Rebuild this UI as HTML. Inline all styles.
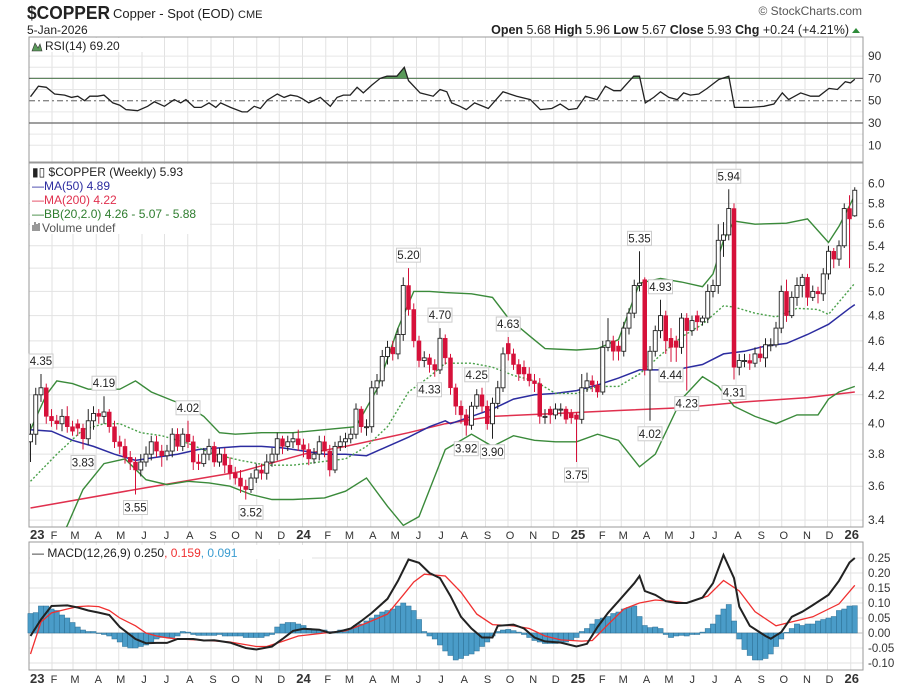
<!DOCTYPE html>
<html><head><meta charset="utf-8"><style>
body{margin:0;background:#fff;font-family:"Liberation Sans",Arial,sans-serif}
svg{display:block}
text{font-family:"Liberation Sans",Arial,sans-serif}
</style></head><body>
<svg id="chart" width="903" height="687" viewBox="0 0 903 687" xmlns="http://www.w3.org/2000/svg">
<rect width="903" height="687" fill="#fff"/>
<g id="header">
<text x="27" y="19" font-size="18" font-weight="bold" fill="#222" textLength="83" lengthAdjust="spacingAndGlyphs">$COPPER</text>
<text x="113" y="18" font-size="13" fill="#222">Copper - Spot (EOD) <tspan font-size="11">CME</tspan></text>
<text x="27" y="34" font-size="12" fill="#222">5-Jan-2026</text>
<text x="862" y="15" font-size="12" fill="#555" text-anchor="end">© StockCharts.com</text>
<text x="849" y="34" font-size="12.5" fill="#222" text-anchor="end"><tspan font-weight="bold">Open</tspan> 5.68  <tspan font-weight="bold">High</tspan> 5.96  <tspan font-weight="bold">Low</tspan> 5.67  <tspan font-weight="bold">Close</tspan> 5.93  <tspan font-weight="bold">Chg</tspan> +0.24 (+4.21%)</text>
<path d="M852 33 L856 28 L860 33 Z" fill="#2e8b3a"/>
</g>
<defs>
<clipPath id="clipMain"><rect x="29" y="163" width="834" height="364"/></clipPath>
<clipPath id="clipRsiTop"><rect x="29" y="37" width="834" height="42"/></clipPath>
</defs>
<g id="grid"></g>
<g id="rsi"></g>
<g id="main"></g>
<g id="macd"></g>
<g id="legends"></g>
</svg>
<script>
// ---------- DATA ----------
const opens=[3.88,3.93,4.20,4.25,4.05,4.02,4.00,4.05,3.98,4.00,3.97,3.90,4.02,4.07,4.05,4.08,3.98,3.88,3.85,3.78,3.75,3.70,3.75,3.80,3.88,3.82,3.79,3.82,3.93,3.85,3.93,3.88,3.75,3.74,3.80,3.85,3.75,3.80,3.73,3.68,3.65,3.60,3.58,3.65,3.70,3.68,3.75,3.80,3.90,3.85,3.88,3.90,3.86,3.83,3.77,3.80,3.88,3.82,3.70,3.85,3.88,3.90,3.93,4.10,3.98,3.98,4.25,4.30,4.48,4.55,4.50,4.65,5.05,4.85,4.60,4.45,4.47,4.42,4.38,4.62,
4.47,4.25,4.12,4.06,3.99,4.12,4.20,4.12,4.00,4.14,4.25,4.58,4.50,4.42,4.40,4.35,4.30,4.28,4.05,4.10,4.06,4.10,4.10,4.07,4.06,4.03,4.25,4.30,4.27,4.22,4.55,4.60,4.56,4.52,4.70,4.82,5.05,5.10,4.38,4.52,4.68,4.80,4.62,4.60,4.55,4.78,4.68,4.80,4.75,4.78,5.00,5.05,5.45,5.50,5.75,4.40,4.45,4.45,4.43,4.50,4.47,4.57,4.57,4.70,5.00,4.80,4.95,5.05,5.12,4.95,5.00,4.98,5.15,5.35,5.28,5.40,5.75,5.68];
const highs=[4.00,4.25,4.35,4.28,4.10,4.06,4.10,4.12,4.02,4.03,4.00,4.10,4.12,4.10,4.19,4.10,4.02,3.92,3.90,3.82,3.78,3.80,3.85,3.92,3.92,3.86,3.86,3.97,3.97,3.97,4.02,3.92,3.80,3.84,3.90,3.88,3.84,3.84,3.78,3.72,3.70,3.64,3.68,3.74,3.74,3.80,3.84,3.94,3.92,3.92,3.94,3.96,3.90,3.87,3.84,3.92,3.92,3.86,3.88,3.92,3.94,3.97,4.14,4.12,4.03,4.30,4.35,4.53,4.60,4.60,4.70,5.12,5.20,4.90,4.64,4.52,4.50,4.46,4.70,4.65,
4.50,4.28,4.16,4.10,4.15,4.24,4.25,4.16,4.18,4.30,4.55,4.63,4.54,4.46,4.45,4.40,4.35,4.32,4.10,4.12,4.14,4.14,4.12,4.10,4.08,4.35,4.36,4.34,4.30,4.60,4.78,4.64,4.60,4.75,4.86,5.10,5.35,5.12,4.56,4.72,4.93,4.84,4.70,4.64,4.82,4.82,4.80,4.84,4.80,5.06,5.10,5.60,5.62,5.94,5.80,4.50,4.50,4.50,4.55,4.56,4.62,4.62,4.75,5.05,5.10,5.00,5.12,5.15,5.15,5.05,5.04,5.20,5.40,5.38,5.45,5.80,5.88,5.96];
const lows=[3.75,3.86,4.15,4.00,3.98,3.96,3.95,3.94,3.92,3.92,3.83,3.86,3.96,4.00,4.00,3.94,3.84,3.80,3.74,3.70,3.55,3.66,3.72,3.76,3.78,3.72,3.76,3.78,3.82,3.82,3.84,3.70,3.70,3.72,3.76,3.72,3.72,3.68,3.64,3.61,3.56,3.52,3.56,3.62,3.64,3.64,3.72,3.76,3.80,3.82,3.84,3.82,3.78,3.73,3.74,3.76,3.78,3.66,3.68,3.82,3.84,3.87,3.90,3.94,3.92,3.94,4.20,4.26,4.42,4.45,4.46,4.60,4.80,4.55,4.40,4.40,4.36,4.33,4.35,4.42,
4.20,4.06,4.00,3.92,3.96,4.10,4.08,3.96,3.90,4.10,4.22,4.45,4.38,4.30,4.30,4.26,4.22,4.00,4.00,4.00,4.03,4.05,4.00,4.00,3.75,4.00,4.22,4.22,4.18,4.20,4.52,4.45,4.45,4.48,4.65,4.78,5.00,4.34,4.02,4.48,4.62,4.50,4.44,4.44,4.50,4.23,4.64,4.68,4.72,4.74,4.95,4.98,5.30,5.45,4.31,4.34,4.40,4.38,4.40,4.44,4.40,4.52,4.55,4.66,4.75,4.78,4.88,4.95,4.88,4.92,4.90,4.92,5.10,5.20,5.22,5.38,5.20,5.67];
const closes=[3.93,4.20,4.25,4.05,4.02,4.00,4.05,3.98,3.95,3.97,3.90,4.02,4.07,4.05,4.08,3.98,3.88,3.85,3.78,3.75,3.70,3.75,3.80,3.88,3.82,3.79,3.82,3.93,3.85,3.93,3.88,3.75,3.74,3.80,3.85,3.75,3.80,3.73,3.68,3.65,3.60,3.58,3.65,3.70,3.68,3.75,3.80,3.90,3.85,3.88,3.90,3.86,3.83,3.77,3.80,3.88,3.82,3.70,3.85,3.88,3.90,3.93,4.10,3.98,3.98,4.25,4.30,4.48,4.55,4.50,4.65,5.05,4.85,4.60,4.45,4.47,4.42,4.38,4.62,4.47,
4.25,4.12,4.06,3.99,4.12,4.20,4.12,4.00,4.14,4.25,4.50,4.50,4.42,4.35,4.35,4.30,4.28,4.05,4.05,4.06,4.10,4.10,4.03,4.04,4.03,4.25,4.30,4.27,4.22,4.55,4.60,4.52,4.52,4.70,4.82,5.05,5.07,4.38,4.52,4.68,4.80,4.60,4.55,4.55,4.78,4.68,4.76,4.75,4.78,5.00,5.05,5.45,5.50,5.75,4.40,4.45,4.45,4.43,4.50,4.47,4.57,4.57,4.70,5.00,4.80,4.95,5.05,5.12,4.95,5.00,4.98,5.15,5.35,5.28,5.40,5.75,5.65,5.93];

const ma50Weeks=[0,4,8,12,16,20,24,28,32,36,40,44,48,52,56,60,64,68,72,76,79,80,84,88,92,96,100,104,108,112,116,120,124,128,132,136,140,144,148,152,156,157];
const ma50Values=[3.96,3.95,3.89,3.85,3.80,3.76,3.78,3.80,3.83,3.84,3.85,3.85,3.84,3.82,3.80,3.80,3.79,3.85,3.91,3.98,4.02,4.00,4.05,4.10,4.17,4.20,4.21,4.23,4.27,4.32,4.38,4.38,4.39,4.42,4.50,4.52,4.56,4.58,4.65,4.73,4.86,4.89];
const ma200Weeks=[0,20,40,52,60,72,79,88,100,112,124,136,148,157];
const ma200Values=[3.47,3.58,3.69,3.80,3.85,3.94,4.00,4.05,4.07,4.09,4.11,4.15,4.18,4.22];
const bbUpWeeks=[0,3,5,8,11,14,17,20,23,27,30,33,36,39,44,50,56,62,66,70,73,76,79,84,88,91,95,98,104,108,112,116,120,124,128,130,132,134,138,144,148,152,154,157];
const bbUpValues=[3.96,4.20,4.30,4.28,4.24,4.24,4.24,4.30,4.22,4.16,4.12,4.05,3.94,3.93,3.94,3.94,3.96,3.98,4.24,4.70,5.00,5.00,4.99,4.98,4.95,4.78,4.64,4.54,4.53,4.54,4.61,5.07,5.11,5.08,5.04,5.15,5.45,5.63,5.60,5.61,5.65,5.43,5.58,5.88];
const bbMidWeeks=[0,5,10,14,17,21,25,30,35,40,45,50,55,60,64,68,72,76,79,84,88,92,96,100,104,108,112,116,120,124,128,132,134,138,142,146,150,152,157];
const bbMidValues=[3.63,3.80,3.96,4.00,4.00,3.94,3.92,3.87,3.80,3.76,3.73,3.73,3.75,3.77,3.85,3.98,4.22,4.33,4.43,4.43,4.40,4.34,4.30,4.21,4.21,4.26,4.26,4.35,4.49,4.63,4.73,4.88,4.87,4.82,4.79,4.86,4.85,4.81,5.07];
const bbLowWeeks=[4,7,10,14,18,22,26,30,34,38,42,46,50,56,60,64,68,71,74,79,84,88,92,96,100,104,108,112,116,119,124,128,131,134,138,142,146,150,152,154,157];
const bbLowValues=[3.20,3.37,3.58,3.74,3.77,3.64,3.61,3.63,3.62,3.60,3.55,3.52,3.52,3.53,3.57,3.65,3.48,3.37,3.42,3.83,3.93,3.85,3.92,3.89,3.88,3.88,3.93,3.89,3.72,3.80,4.17,4.33,4.26,4.12,4.05,4.00,4.06,4.06,4.17,4.22,4.26];

const rsiWeeks=[0,1.5,3,4.6,6.5,7.8,9,10.3,11.3,12.8,14,15.7,17,18.2,20.4,22.3,23.6,25.5,27.4,28.6,29.6,31.2,32.5,34,35.3,36.2,38.1,40.3,41.3,42.6,43.8,45.1,47,48.3,49.5,50.8,51.7,53,55.2,57.1,58.4,59.6,60.9,62.2,63.4,65,66.6,67.9,69.8,71.2,72,74.2,76.7,78,79.3,80.2,81.8,83,84.6,87.2,90,92.6,95.2,97.1,99.3,100.9,102.5,104.1,105.7,107.9,109.5,111.1,112.4,114.9,116,117.1,118.7,120,121.6,123.2,124.4,125.7,127.3,128.9,131.1,133,134.1,137.2,139.7,141.6,143.2,144.4,146.7,148.6,150.2,152.1,153.7,155.2,156.2,157];
const rsiValues=[53.6,63,62,56,55,53,54,50,54,54,55,48,46,42,41,45,49,45,51,48,51,44,44,48,44,48,44,40,40,45,43,50.5,56,53,55,54,52,48,53,45,53,55,55,62,57,64,70,72,72,80,68,57,54,60,58,48,45,42,48,43,58,54,51,42,43,47,42,43,54,51,63,59,59,72,72,48,53,58,53,51,57,55,56,61,69,72,44,44,45,47,57,51,57,54,54,61,60,67,66,69.2];

const macdWeeks=[0,2,4,7,9,11,13,15,17,20,22,24,26,28,31,33,35,38,41,43,46,48,50,52,55,57,59,61,63,65,68,70,72,74,76,78,80,82,84,86,88,89,92,94,96,98,101,104,106,108,110,112,115,116,117,119,121,123,125,128,130,132,134,135,137,140,141,143,145,147,149,152,154,156,157];
const macdValues=[-0.01,0.045,0.09,0.092,0.085,0.075,0.068,0.06,0.02,-0.02,-0.034,-0.033,-0.033,-0.02,-0.02,-0.025,-0.024,-0.032,-0.05,-0.055,-0.045,-0.02,0.007,0.014,0.011,0.0,0.006,0.015,0.04,0.067,0.114,0.174,0.245,0.234,0.2,0.183,0.123,0.054,0.015,-0.015,-0.015,0.024,0.028,0.015,-0.015,-0.028,-0.032,-0.045,-0.036,0.02,0.067,0.106,0.166,0.19,0.14,0.127,0.106,0.1,0.1,0.118,0.166,0.26,0.183,0.088,0.024,-0.01,-0.019,0.003,0.054,0.071,0.093,0.127,0.174,0.235,0.250];
const signalWeeks=[0,2,4,7,9,11,13,15,17,20,22,24,26,28,33,38,43,45,48,51,56,60,64,68,71,73,75,79,82,85,88,92,95,98,101,105,107,110,113,116,119,122,125,129,132,135,138,142,145,149,154,157];
const signalValues=[-0.07,0.037,0.067,0.08,0.088,0.09,0.088,0.075,0.05,0.024,0.0,-0.01,-0.016,-0.02,-0.024,-0.03,-0.045,-0.045,-0.028,-0.01,0.0,0.007,0.033,0.063,0.127,0.17,0.196,0.19,0.136,0.063,0.028,0.024,0.015,-0.01,-0.023,-0.027,-0.025,0.028,0.08,0.1,0.11,0.106,0.1,0.123,0.175,0.14,0.071,0.024,0.037,0.054,0.097,0.159];
const histValues=[0.065,0.068,0.09,0.09,0.08,0.075,0.06,0.05,0.035,0.02,0.01,0.005,0.005,0,-0.005,-0.01,-0.02,-0.03,-0.045,-0.05,-0.05,-0.045,-0.04,-0.03,-0.02,-0.015,-0.015,-0.015,-0.01,0.005,0.003,-0.005,-0.008,-0.008,-0.008,-0.008,-0.005,-0.01,-0.01,-0.01,-0.01,-0.015,-0.015,-0.015,-0.015,-0.01,-0.005,0.02,0.03,0.035,0.035,0.03,0.025,0.015,0.01,0.01,0.01,0.005,0.005,0.01,0.01,0.015,0.025,0.03,0.04,0.05,0.06,0.07,0.075,0.08,0.09,0.1,0.09,0.075,0.045,0.005,-0.01,-0.02,-0.04,-0.06,
-0.075,-0.09,-0.085,-0.075,-0.07,-0.06,-0.045,-0.03,-0.01,0.005,0.01,0.012,0.008,0.003,-0.005,-0.015,-0.025,-0.03,-0.035,-0.035,-0.035,-0.03,-0.03,-0.025,-0.015,0.005,0.015,0.03,0.045,0.05,0.055,0.065,0.07,0.08,0.085,0.09,0.055,0.025,0.018,0.02,0.015,-0.005,-0.015,-0.01,-0.008,-0.01,-0.005,-0.005,0.003,0.015,0.03,0.06,0.08,0.095,0.04,-0.02,-0.055,-0.075,-0.09,-0.09,-0.085,-0.07,-0.045,-0.02,0.002,0.015,0.03,0.025,0.03,0.03,0.04,0.045,0.05,0.055,0.075,0.08,0.09,0.091];

const annoWeeks=[2,14,10,20,30,42,72,78,76,83,85,88,91,104,116,118,120,122,125,133,134];
const annoValues=[4.35,4.19,3.83,3.55,4.02,3.52,5.20,4.70,4.33,3.92,4.25,3.90,4.63,3.75,5.35,4.02,4.93,4.44,4.23,5.94,4.31];
const annoKinds=["H","H","L","L","H","L","H","H","L","L","H","L","H","L","H","L","H","L","L","H","L"];

const priceTicks=[6.0,5.8,5.6,5.4,5.2,5.0,4.8,4.6,4.4,4.2,4.0,3.8,3.6,3.4];
const rsiTicks=[90,70,50,30,10];
const macdTicks=[0.25,0.20,0.15,0.10,0.05,0.00,-0.05,-0.10];
const monthLetters=["J","F","M","A","M","J","J","A","S","O","N","D"];

// ---------- AXES ----------
const L=29,R=863;
const xOf=i=>30.5+5.25*i;
const yP=p=>183.3+593*Math.log(6/p);
const yR=r=>100.7-(r-50)*1.115;
const yM=v=>633-v*300;
const NS="http://www.w3.org/2000/svg";
function mk(parent,tag,attrs,txt){const e=document.createElementNS(NS,tag);for(const k in attrs)e.setAttribute(k,attrs[k]);if(txt!==undefined)e.textContent=txt;parent.appendChild(e);return e;}
function linePath(ws,vs,yf){return ws.map((w,k)=>(k?'L':'M')+xOf(w).toFixed(1)+' '+yf(vs[k]).toFixed(1)).join(' ');}

const grid=document.getElementById('grid');
const rsiG=document.getElementById('rsi'),mainG=document.getElementById('main'),macdG=document.getElementById('macd'),legG=document.getElementById('legends');

const t0=Date.UTC(2023,0,2);
for(let y=2023;y<=2026;y++){for(let m=0;m<12;m++){
  if(y===2026&&m>0)break;
  const wk=(Date.UTC(y,m,1)-t0)/(7*86400000);
  const x=Math.max(L,xOf(wk)-1);
  const gl=mk(grid,'line',{x1:x,x2:x,y1:37,y2:162,stroke:'#e2e2e2','stroke-width':1});
  
  const g2=mk(grid,'line',{x1:x,x2:x,y1:163,y2:527,stroke:'#e2e2e2','stroke-width':1});
  
  const g3=mk(grid,'line',{x1:x,x2:x,y1:542,y2:670,stroke:'#e2e2e2','stroke-width':1});
  
  const lab=m===0?String(y).slice(2):monthLetters[m];
  const bold=m===0;
  [535,679].forEach(ty=>{
    const t=mk(grid,'text',{x:m===0?x+1:x+2,y:ty+4,'font-size':bold?13:11,'font-weight':bold?'bold':'normal',fill:'#333','text-anchor':m===0&&y===2023?'start':'middle'},lab);
    
  });
}}
priceTicks.forEach(p=>{
  const y=yP(p);
  const l=mk(grid,'line',{x1:L,x2:R,y1:y,y2:y,stroke:'#e2e2e2'});
  
  const t=mk(grid,'text',{x:868,y:y+4,'font-size':12,fill:'#333'},p.toFixed(1));
  
});
[90,80,60,40,20,10].forEach(r=>{const l=mk(grid,'line',{x1:L,x2:R,y1:yR(r),y2:yR(r),stroke:'#e6e6e6'});
  });
rsiTicks.forEach(r=>{const t=mk(grid,'text',{x:868,y:yR(r)+4,'font-size':12,fill:'#333'},String(r));
  });
macdTicks.forEach(v=>{const y=yM(v);
  const l=mk(grid,'line',{x1:L,x2:R,y1:y,y2:y,stroke:'#e2e2e2'});
  
  const t=mk(grid,'text',{x:868,y:y+4,'font-size':11.5,fill:'#333'},v.toFixed(2));
  });
[[37,162],[163,527],[542,670]].forEach(([a,b])=>{const r=mk(grid,'rect',{x:L,y:a,width:R-L,height:b-a,fill:'none',stroke:'#999'});
  });

// ---------- RSI ----------
[[70,'#666','none'],[30,'#666','none'],[50,'#888','6,3,2,3']].forEach(([r,c,d])=>{
  const l=mk(rsiG,'line',{x1:L,x2:R,y1:yR(r),y2:yR(r),stroke:c,'stroke-width':1.3,'stroke-dasharray':d});
  });
const rp=linePath(rsiWeeks,rsiValues,yR);
const rf=mk(rsiG,'path',{d:rp+' L'+xOf(rsiWeeks[rsiWeeks.length-1])+' '+yR(70)+' L'+xOf(0)+' '+yR(70)+' Z',fill:'#5a9a5a','clip-path':'url(#clipRsiTop)'});

const rl=mk(rsiG,'path',{d:rp,fill:'none',stroke:'#222','stroke-width':1.3});


// ---------- PRICE ----------
const clipG=mk(mainG,'g',{'clip-path':'url(#clipMain)'});

const lines=[[ma200Weeks,ma200Values,'#e0304e','none',1.5,'ma200-line'],[ma50Weeks,ma50Values,'#2c2ca0','none',1.5,'ma50-line'],
 [bbUpWeeks,bbUpValues,'#3a8a3a','none',1.4,'bb-upper-line'],[bbLowWeeks,bbLowValues,'#3a8a3a','none',1.4,'bb-lower-line'],[bbMidWeeks,bbMidValues,'#4aa04a','2,2',1.4,'bb-middle-line']];
lines.forEach(([w,v,c,d,sw,n])=>{const p=mk(clipG,'path',{d:linePath(w,v,yP),fill:'none',stroke:c,'stroke-dasharray':d,'stroke-width':sw});
  });
closes.forEach((c,i)=>{
  const o=opens[i],x=xOf(i),up=c>=o;
  const w=mk(clipG,'line',{x1:x,x2:x,y1:yP(highs[i]),y2:yP(lows[i]),stroke:up?'#222':'#d6113a','stroke-width':1});
  
  const top=yP(Math.max(o,c)),bot=yP(Math.min(o,c));
  const b=mk(clipG,'rect',{x:x-2,y:top,width:4,height:Math.max(1,bot-top),fill:up?'#fff':'#d6113a',stroke:up?'#222':'#d6113a','stroke-width':up?0.9:0.5});
  
});
annoWeeks.forEach((w,k)=>{
  const v=annoValues[k],x=xOf(w),hi=annoKinds[k]==='H';
  const yAnchor=yP(v);
  const by=hi?yAnchor-20:yAnchor+6;
  const g=mk(mainG,'g',{});
  
  mk(g,'rect',{x:x-12,y:by,width:24,height:14,fill:'#fff',stroke:'#ccc'});
  mk(g,'text',{x:x,y:by+11,'font-size':11.5,fill:'#222','text-anchor':'middle'},v.toFixed(2));
});

// ---------- MACD ----------
const zl=mk(macdG,'line',{x1:L,x2:R,y1:yM(0),y2:yM(0),stroke:'#bbb'});

histValues.forEach((v,i)=>{
  const y0=yM(0),y1=yM(v);
  const b=mk(macdG,'rect',{x:xOf(i)-2.6,y:Math.min(y0,y1),width:5.2,height:Math.max(0.5,Math.abs(y1-y0)),fill:'#4a9cc8',stroke:'#2a6e94','stroke-width':0.5});
  
});
const sg=mk(macdG,'path',{d:linePath(signalWeeks,signalValues,yM),fill:'none',stroke:'#f03030','stroke-width':1.3});

const ml=mk(macdG,'path',{d:linePath(macdWeeks,macdValues,yM),fill:'none',stroke:'#222','stroke-width':2});


// ---------- LEGENDS ----------
function leg(x,y,parts,name){const t=mk(legG,'text',{x:x,y:y,'font-size':12});
  
  parts.forEach(([s,c])=>{mk(t,'tspan',{fill:c},s);});}
const bg1=mk(legG,'rect',{x:30,y:38,width:115,height:14,fill:'#fff'});

const ri=mk(legG,'path',{d:'M32 51 L35 43 L38 48 L40 44 L42 51 Z',fill:'#5a9a5a',stroke:'#333','stroke-width':0.6});

leg(45,50,[['RSI(14) 69.20','#222']],'rsi-legend');
const bg2=mk(legG,'rect',{x:30,y:164,width:180,height:70,fill:'#fff'});

leg(32,176,[['\u25AE\u25AF $COPPER (Weekly) 5.93','#222']],'price-legend');
leg(32,190,[['\u2014','#2c2ca0'],['MA(50) 4.89','#2c2ca0']],'ma50-legend');
leg(32,204,[['\u2014','#e0304e'],['MA(200) 4.22','#e0304e']],'ma200-legend');
leg(32,218,[['\u2014','#2e7d2e'],['BB(20,2.0) 4.26 - 5.07 - 5.88','#2e7d2e']],'bb-legend');
const vi=mk(legG,'path',{d:'M33 231 V225 M35 231 V222 M37 231 V224 M39 231 V223',stroke:'#777','stroke-width':1.5});

leg(42,232,[['Volume undef','#555']],'volume-legend');
const bg3=mk(legG,'rect',{x:30,y:545,width:282,height:14,fill:'#fff'});

leg(32,557,[['\u2014 MACD(12,26,9) 0.250','#222'],[', 0.159','#f03030'],[', 0.091','#3a9cd0']],'macd-legend');
</script>
</body></html>
